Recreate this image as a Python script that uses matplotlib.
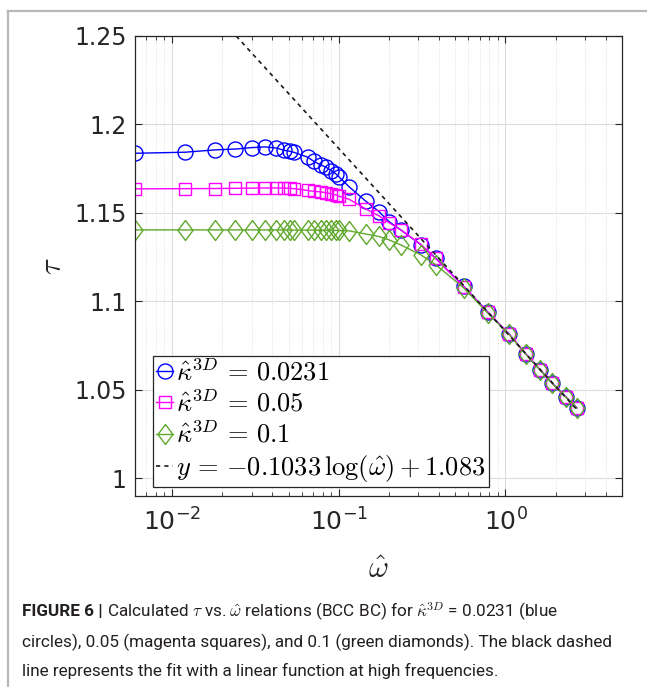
import math
import matplotlib
matplotlib.use("Agg")
import matplotlib.pyplot as plt
from matplotlib import font_manager
from matplotlib.lines import Line2D
from matplotlib.ticker import LogLocator, NullFormatter

# reduced frequency (shared by all three series)
omega = [0.006, 0.012, 0.018, 0.024, 0.030, 0.036, 0.042, 0.047, 0.051, 0.054,
         0.065, 0.071, 0.078, 0.084, 0.090, 0.096, 0.100, 0.115, 0.145, 0.174,
         0.200, 0.235, 0.310, 0.381, 0.562, 0.783, 1.047, 1.32, 1.61, 1.90,
         2.30, 2.68]

tau_k0231 = [1.1836, 1.1842, 1.1855, 1.1860, 1.1868, 1.1872, 1.1866, 1.1853,
             1.1847, 1.1841, 1.1814, 1.1790, 1.1770, 1.1757, 1.1738, 1.1720,
             1.1704, 1.1648, 1.1566, 1.1507, 1.1450, 1.1404, 1.1320, 1.1244,
             1.1084, 1.0939, 1.0817, 1.0704, 1.0614, 1.0539, 1.0460, 1.0398]

tau_k005 = [1.1635, 1.1636, 1.1637, 1.1638, 1.1639, 1.1640, 1.1640, 1.1639,
            1.1638, 1.1636, 1.1626, 1.1621, 1.1618, 1.1613, 1.1607, 1.1601,
            1.1594, 1.1577, 1.1522, 1.1483, 1.1444, 1.1404, 1.1322, 1.1242,
            1.1083, 1.0938, 1.0817, 1.0705, 1.0614, 1.0539, 1.0460, 1.0398]

tau_k01 = [1.1403, 1.1403, 1.1403, 1.1403, 1.1403, 1.1403, 1.1403, 1.1403,
           1.1402, 1.1402, 1.1402, 1.1402, 1.1401, 1.1401, 1.1401, 1.1400,
           1.1400, 1.1398, 1.1380, 1.1366, 1.1347, 1.1319, 1.1263, 1.1207,
           1.1075, 1.0933, 1.0814, 1.0702, 1.0612, 1.0538, 1.0459, 1.0397]

# high-frequency fit  y = a*log10(w) + b
fit_a = -0.1033
fit_b = 1.083
fit_w = [0.006, 2.68]

labels = [r'$\hat{\kappa}^{3D} \,=\, 0.0231$',
          r'$\hat{\kappa}^{3D} \,=\, 0.05$',
          r'$\hat{\kappa}^{3D} \,=\, 0.1$',
          r'$y \,=\, {-0.1033}\,\log(\hat{\omega}) + 1.083$']

caption_head = "FIGURE 6 |"
caption_lines = [
    r" Calculated $\tau$ vs. $\hat{\omega}$ relations (BCC BC) for $\hat{\kappa}^{3D}$ = 0.0231 (blue",
    "circles), 0.05 (magenta squares), and 0.1 (green diamonds). The black dashed",
    "line represents the fit with a linear function at high frequencies.",
]

plt.rcParams['font.family'] = 'DejaVu Sans'
plt.rcParams['mathtext.fontset'] = 'cm'

installed = {f.name for f in font_manager.fontManager.ttflist}
cap_font = 'Liberation Sans Narrow' if 'Liberation Sans Narrow' in installed else 'Roboto'

blue = '#0000ff'
magenta = '#ff00ff'
green = '#5fa82b'
diamond = [(0, 1), (0.75, 0), (0, -1), (-0.75, 0), (0, 1)]

fig = plt.figure(figsize=(6.47, 6.87), dpi=100)
ax = fig.add_axes([0.2087, 0.278, 0.7527, 0.670])

ax.semilogx(omega, tau_k0231, '-', color=blue, marker='o', ms=10.8,
            mfc='none', mew=1.0, lw=1.0, label=labels[0])
ax.semilogx(omega, tau_k005, '-', color=magenta, marker='s', ms=8.9,
            mfc='none', mew=1.0, lw=1.0, label=labels[1])
ax.semilogx(omega, tau_k01, '-', color=green, marker=diamond, ms=14.4,
            mfc='none', mew=1.0, lw=1.0, label=labels[2])
fit_y = [fit_a * math.log10(w) + fit_b for w in fit_w]
ax.semilogx(fit_w, fit_y, color='#1a1a1a', lw=1.2, ls=(0, (2.5, 2.5)),
            label=labels[3])

ax.set_xlim(0.006, 5)
ax.set_ylim(0.99, 1.25)
ax.set_yticks([1.0, 1.05, 1.1, 1.15, 1.2, 1.25])
ax.set_yticklabels(['1', '1.05', '1.1', '1.15', '1.2', '1.25'])
ax.xaxis.set_minor_locator(LogLocator(base=10, subs=range(2, 10), numticks=20))
ax.xaxis.set_minor_formatter(NullFormatter())

ax.grid(True, which='major', color='#dcdcdc', lw=0.8, ls='-')
ax.grid(True, which='minor', axis='x', color='#d4d4d4', lw=0.6, ls=(0, (1, 2)))
ax.set_axisbelow(True)

ax.tick_params(which='both', direction='in', top=True, right=True,
               colors='#262626', labelsize=17)
ax.tick_params(axis='x', labelsize=18)
ax.tick_params(which='major', length=5, width=0.8)
ax.tick_params(which='minor', length=3, width=0.6)
ax.tick_params(axis='y', pad=6)
ax.tick_params(axis='x', pad=9)
for sp in ax.spines.values():
    sp.set_color('#262626')
    sp.set_linewidth(0.9)

ax.set_xlabel(r'$\hat{\omega}$', fontsize=22, color='#262626', labelpad=14)
ax.set_ylabel(r'$\tau$', fontsize=22, color='#262626', labelpad=5)

leg = ax.legend(loc='lower left', bbox_to_anchor=(0.037, 0.0196),
                borderaxespad=0, fontsize=19, frameon=True, fancybox=False,
                edgecolor='#262626', framealpha=1, handlelength=0.65,
                handletextpad=0.1, labelspacing=0.15, borderpad=0.12)
leg.get_frame().set_linewidth(0.9)

# page frame lines
frame_kw = dict(transform=fig.transFigure, color='#b8b8b8', lw=1.6)
fig.add_artist(Line2D([8 / 647, 1], [1 - 11 / 687] * 2, **frame_kw))
fig.add_artist(Line2D([8 / 647] * 2, [0, 1 - 11 / 687], **frame_kw))

# caption
cap_size = 12.3
line_y = [612, 642, 671]
renderer = fig.canvas.get_renderer()
head = fig.text(22 / 647, 1 - line_y[0] / 687, caption_head, fontsize=cap_size,
                fontweight='bold', va='center', family=cap_font, color='#231f20')
bb = head.get_window_extent(renderer)
fig.text(bb.x1 / fig.bbox.width, 1 - line_y[0] / 687, caption_lines[0],
         fontsize=cap_size, va='center', family=cap_font, color='#231f20',
         math_fontfamily='cm')
for txt, yy in zip(caption_lines[1:], line_y[1:]):
    fig.text(22 / 647, 1 - yy / 687, txt, fontsize=cap_size, va='center',
             family=cap_font, color='#231f20')

fig.savefig('out.png', dpi=100)
